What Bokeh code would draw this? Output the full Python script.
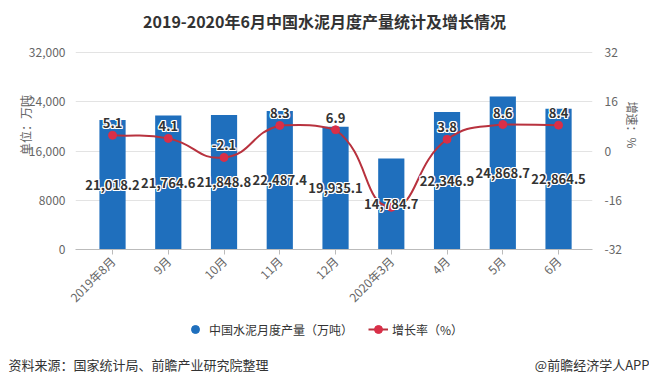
import math
from bokeh.plotting import figure
from bokeh.layouts import column
from bokeh.models import (Range1d, LinearAxis, FixedTicker, Legend, LegendItem,
                          ColumnDataSource, Label)
from bokeh.core.properties import value
from bokeh.embed import file_html
from bokeh.resources import INLINE

# ---------------- data ----------------
categories = ["2019年8月", "9月", "10月", "11月", "12月", "2020年3月", "4月", "5月", "6月"]
production = [21018.2, 21764.6, 21848.8, 22487.4, 19935.1, 14784.7, 22346.9, 24868.7, 22864.5]
growth = [5.1, 4.1, -2.1, 8.3, 6.9, -18.3, 3.8, 8.6, 8.4]
growth_label_shown = [True, True, True, True, True, False, True, True, True]
left_ticks = [0, 8000, 16000, 24000, 32000]
left_tick_labels = ["0", "8000", "16,000", "24,000", "32,000"]
right_ticks = [-32, -16, 0, 16, 32]
right_tick_labels = ["-32", "-16", "0", "16", "32"]

title_text = "2019-2020年6月中国水泥月度产量统计及增长情况"
left_axis_title = "单位：万吨"
right_axis_title = "增速：%"
series_names = ["中国水泥月度产量（万吨）", "增长率（%）"]
source_text = "资料来源：国家统计局、前瞻产业研究院整理"
brand_text = "@前瞻经济学人APP"

# ---------------- style ----------------
FONT = "Noto Sans CJK SC"
BAR_COLOR = "#1f6fbd"
LINE_COLOR = "#b8323e"
MARKER_COLOR = "#d92f48"
TEXT_DARK = "#333333"
AXIS_TEXT = "#666666"

W = 649
H = 315              # main chart canvas
H2 = 383 - H         # legend + footer strip
BL, BR = 75, 57
AXIS_Y = 249         # canvas y of the x axis
TOP_Y = 52           # canvas y of the top gridline
BB = H - AXIS_Y
frame_w = W - BL - BR
frame_h = AXIS_Y     # frame runs from canvas top to the x axis

# value ranges extended upward so that the top tick sits at TOP_Y
left_max = left_ticks[-1] * AXIS_Y / (AXIS_Y - TOP_Y)
r_lo, r_hi = right_ticks[0], right_ticks[-1]
right_max = r_lo + (r_hi - r_lo) * AXIS_Y / (AXIS_Y - TOP_Y)

n = len(categories)
x_pos = list(range(n))
x_start, x_end = -0.664, 8.609

p = figure(width=W, height=H, output_backend="svg", toolbar_location=None, title=None,
           x_range=Range1d(x_start, x_end), y_range=Range1d(0, left_max),
           min_border_left=BL, min_border_right=BR, min_border_top=0, min_border_bottom=BB)
p.extra_y_ranges = {"right": Range1d(r_lo, right_max)}
p.outline_line_color = None
p.background_fill_color = "white"
p.border_fill_color = "white"

# title (inside the frame area above the top gridline)
p.add_layout(Label(x=324 - BL, y=AXIS_Y - 20, x_units="screen", y_units="screen",
                   text=title_text, text_font=FONT, text_font_size="16px",
                   text_font_style="bold", text_color=TEXT_DARK,
                   text_align="center", text_baseline="middle"))

# grid
p.xgrid.grid_line_color = None
p.ygrid.ticker = FixedTicker(ticks=left_ticks)
p.ygrid.grid_line_color = "#e3e3e3"
p.ygrid.grid_line_width = 1

# bottom axis
xa = p.xaxis[0]
xa.ticker = FixedTicker(ticks=x_pos)
xa.major_label_overrides = {i: c for i, c in zip(x_pos, categories)}
xa.major_label_orientation = math.pi / 4
xa.major_label_text_font = FONT
xa.major_label_text_font_size = "12px"
xa.major_label_text_color = AXIS_TEXT
xa.axis_line_color = "#bbbbbb"
xa.major_tick_line_color = "#bbbbbb"
xa.major_tick_out = 5
xa.major_tick_in = 0
xa.minor_tick_line_color = None
xa.major_label_standoff = 4

# left axis
ya = p.yaxis[0]
ya.ticker = FixedTicker(ticks=left_ticks)
ya.major_label_overrides = {t: l for t, l in zip(left_ticks, left_tick_labels)}
ya.axis_line_color = None
ya.major_tick_line_color = None
ya.minor_tick_line_color = None
ya.major_label_text_font = FONT
ya.major_label_text_font_size = "12px"
ya.major_label_text_color = AXIS_TEXT
ya.major_label_standoff = 4
ya.axis_label = left_axis_title
ya.axis_label_text_font = FONT
ya.axis_label_text_font_size = "12px"
ya.axis_label_text_font_style = "normal"
ya.axis_label_text_color = AXIS_TEXT
ya.axis_label_standoff = -8

# right axis
ra = LinearAxis(y_range_name="right", ticker=FixedTicker(ticks=right_ticks))
ra.major_label_overrides = {t: l for t, l in zip(right_ticks, right_tick_labels)}
ra.axis_line_color = None
ra.major_tick_line_color = None
ra.minor_tick_line_color = None
ra.major_label_text_font = FONT
ra.major_label_text_font_size = "12px"
ra.major_label_text_color = AXIS_TEXT
ra.major_label_standoff = 6
ra.axis_label = right_axis_title
ra.axis_label_text_font = FONT
ra.axis_label_text_font_size = "12px"
ra.axis_label_text_font_style = "normal"
ra.axis_label_text_color = AXIS_TEXT
ra.axis_label_standoff = -1
p.add_layout(ra, "right")

# bars
src = ColumnDataSource(dict(x=x_pos, top=production,
                            mid=[v / 2 for v in production],
                            lab=[f"{v:,.1f}" for v in production]))
p.vbar(x="x", top="top", width=0.47, source=src, fill_color=BAR_COLOR, line_color=None)

# smooth growth curve (bezier segments through the data points, echarts-like)
px_x = frame_w / (x_end - x_start)
px_y = frame_h / (right_max - r_lo)
pts = [(x * px_x, g * px_y) for x, g in zip(x_pos, growth)]
min_px = (min(q[0] for q in pts), min(q[1] for q in pts))
max_px = (max(q[0] for q in pts), max(q[1] for q in pts))
smooth = 0.5

def clamp(pt):
    return (min(max(pt[0], min_px[0]), max_px[0]), min(max(pt[1], min_px[1]), max_px[1]))

cps = []
for i in range(n):
    cur = pts[i]
    prev = pts[i - 1] if i > 0 else cur
    nxt = pts[i + 1] if i < n - 1 else cur
    vx, vy = nxt[0] - prev[0], nxt[1] - prev[1]
    d0 = math.hypot(cur[0] - prev[0], cur[1] - prev[1])
    d1 = math.hypot(nxt[0] - cur[0], nxt[1] - cur[1])
    s = d0 + d1
    r0, r1 = (d0 / s, d1 / s) if s else (0, 0)
    cin = clamp((cur[0] - vx * smooth * r0, cur[1] - vy * smooth * r0))
    cout = clamp((cur[0] + vx * smooth * r1, cur[1] + vy * smooth * r1))
    cps.append((cin, cout))
bz = dict(x0=[], y0=[], x1=[], y1=[], cx0=[], cy0=[], cx1=[], cy1=[])
for i in range(n - 1):
    bz["x0"].append(x_pos[i]); bz["y0"].append(growth[i])
    bz["x1"].append(x_pos[i + 1]); bz["y1"].append(growth[i + 1])
    c0 = cps[i][1]; c1 = cps[i + 1][0]
    bz["cx0"].append(c0[0] / px_x); bz["cy0"].append(c0[1] / px_y)
    bz["cx1"].append(c1[0] / px_x); bz["cy1"].append(c1[1] / px_y)
p.bezier(source=ColumnDataSource(bz), x0="x0", y0="y0", x1="x1", y1="y1",
         cx0="cx0", cy0="cy0", cx1="cx1", cy1="cy1",
         line_color=LINE_COLOR, line_width=2, y_range_name="right")
p.scatter(x=x_pos, y=growth, marker="circle", size=8, fill_color=MARKER_COLOR,
          line_color=MARKER_COLOR, y_range_name="right")

# labels with white halo
halo = [(-1, -1), (-1, 0), (-1, 1), (0, -1), (0, 1), (1, -1), (1, 0), (1, 1)]

def halo_text(source, xcol, ycol, tcol, y_range_name="default", yoff=0):
    for dx, dy in halo:
        p.text(x=xcol, y=ycol, text=tcol, source=source, x_offset=dx, y_offset=yoff + dy,
               text_font=value(FONT), text_font_size="13px", text_font_style="bold",
               text_color="white", text_align="center", text_baseline="middle",
               y_range_name=y_range_name)
    p.text(x=xcol, y=ycol, text=tcol, source=source, x_offset=0, y_offset=yoff,
           text_font=value(FONT), text_font_size="13px", text_font_style="bold",
           text_color=TEXT_DARK, text_align="center", text_baseline="middle",
           y_range_name=y_range_name)

halo_text(src, "x", "mid", "lab")
gsrc = ColumnDataSource(dict(
    x=[x for x, s in zip(x_pos, growth_label_shown) if s],
    y=[g for g, s in zip(growth, growth_label_shown) if s],
    lab=[f"{g:.1f}" for g, s in zip(growth, growth_label_shown) if s]))
halo_text(gsrc, "x", "y", "lab", y_range_name="right", yoff=-12)

# ---------------- legend + footer strip ----------------
FOOT_AXIS_H = 32
f2 = figure(width=W, height=H2, output_backend="svg", toolbar_location=None, title=None,
            x_range=Range1d(BL, W - BR), y_range=Range1d(0, 1),
            min_border_left=BL, min_border_right=BR, min_border_top=0,
            min_border_bottom=FOOT_AXIS_H)
f2.yaxis.visible = False
f2.grid.grid_line_color = None
f2.outline_line_color = None
f2.background_fill_color = "white"
f2.border_fill_color = "white"

# footer texts as labels of the strip's bottom axis (canvas-pixel positions)
foot_pos = [138, W - BR]
fa = f2.xaxis[0]
fa.ticker = FixedTicker(ticks=foot_pos)
fa.major_label_overrides = {foot_pos[0]: source_text, foot_pos[1]: brand_text}
fa.axis_line_color = None
fa.major_tick_line_color = None
fa.minor_tick_line_color = None
fa.major_tick_out = 0
fa.major_tick_in = 0
fa.major_label_standoff = 3
fa.major_label_text_font = FONT
fa.major_label_text_font_size = "13px"
fa.major_label_text_color = TEXT_DARK

# legend proxies (hidden renderers carrying the series data)
leg_bar = f2.scatter(x=x_pos, y=production, marker="circle", size=12,
                     fill_color=BAR_COLOR, line_color=BAR_COLOR, visible=False)
leg_line = f2.line(x=x_pos, y=growth, line_color=LINE_COLOR, line_width=2, visible=False)
leg_pt = f2.scatter(x=x_pos, y=growth, marker="circle", size=7, fill_color=MARKER_COLOR,
                    line_color=MARKER_COLOR, visible=False)
legend = Legend(items=[LegendItem(label=series_names[0], renderers=[leg_bar]),
                       LegendItem(label=series_names[1], renderers=[leg_line, leg_pt])],
                orientation="horizontal", location=(110, 12),
                label_text_font=FONT, label_text_font_size="12px", label_text_color=TEXT_DARK,
                glyph_width=20, glyph_height=20, label_standoff=4, spacing=15,
                padding=0, margin=0, border_line_color=None, background_fill_alpha=0,
                inactive_fill_alpha=0)
f2.add_layout(legend, "center")

layout = column(p, f2, spacing=0)
open("out.html", "w").write(file_html(layout, INLINE))
